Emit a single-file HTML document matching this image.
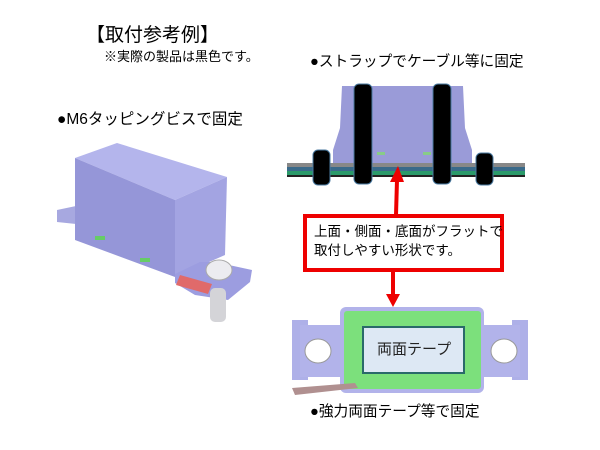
<!DOCTYPE html>
<html><head><meta charset="utf-8"><style>
body{margin:0;width:600px;height:450px;background:#fff;position:relative;overflow:hidden;font-family:"Liberation Sans","Noto Sans CJK JP",sans-serif;color:#000}
.t{position:absolute;white-space:nowrap;line-height:1}
</style></head><body>
<div class="t" style="left:86px;top:26px;font-size:19px">【取付参考例】</div>
<div class="t" style="left:104px;top:50px;font-size:13px">※実際の製品は黒色です。</div>
<div class="t" style="left:57px;top:112px;font-size:15.5px">●M6タッピングビスで固定</div>
<div class="t" style="left:310px;top:55px;font-size:14.7px">●ストラップでケーブル等に固定</div>
<div class="t" style="left:310px;top:405px;font-size:14.7px">●強力両面テープ等で固定</div>
<svg width="600" height="450" style="position:absolute;left:0;top:0">
<!-- left product -->
<polygon points="57,210 76,206 76,224 57,222" fill="#a7a8e0"/>
<polygon points="75,158 117,143 227,177 175,200" fill="#b4b5ec"/>
<polygon points="75,158 175,200 175,277 75,240" fill="#9596d8"/>
<polygon points="175,200 227,177 225,255 175,277" fill="#a3a4e2"/>
<polygon points="175,274 200,262 215,262 252,270 250,282 228,300 195,295 175,283" fill="#9c9de0"/>
<polygon points="180,275 212,284 208,294 176,285" fill="#e06a6a"/>
<rect x="210" y="288" width="16" height="34" rx="5" fill="#d4d4d8"/>
<ellipse cx="219" cy="270" rx="13" ry="10" fill="#ececf0" stroke="#aaa"/>
<rect x="95" y="236" width="10" height="4" fill="#6c6"/><rect x="140" y="258" width="10" height="4" fill="#6c6"/>
<!-- strap figure -->
<polygon points="342,86 463,86 465,128 472,150 472,165 333,165 333,150 340,128" fill="#9a9bd8"/>
<rect x="287" y="163" width="238" height="4" fill="#888"/>
<rect x="287" y="167" width="238" height="4" fill="#3a6a8a"/>
<rect x="287" y="171" width="238" height="4" fill="#2a9a6a"/>
<rect x="287" y="175" width="238" height="2" fill="#222"/>
<rect x="354" y="84" width="18" height="100" rx="5" fill="#000" stroke="#4a7aa0"/>
<rect x="433" y="84" width="18" height="100" rx="5" fill="#000" stroke="#4a7aa0"/>
<rect x="313" y="150" width="17" height="35" rx="5" fill="#000" stroke="#4a7aa0"/>
<rect x="476" y="153" width="17" height="32" rx="5" fill="#000" stroke="#4a7aa0"/>
<rect x="377" y="152" width="8" height="3" fill="#8c8"/><rect x="423" y="152" width="8" height="3" fill="#8c8"/>
<!-- arrows -->
<line x1="396" y1="215" x2="397" y2="180" stroke="#e00" stroke-width="4"/>
<polygon points="390,182 398,166 404,182" fill="#e00"/>
<line x1="393" y1="270" x2="393" y2="296" stroke="#e00" stroke-width="4"/>
<polygon points="386,294 393,307 400,294" fill="#e00"/>
<!-- bottom plate -->
<rect x="292" y="320" width="16" height="60" fill="#aeb0e8"/>
<rect x="512" y="320" width="16" height="60" fill="#aeb0e8"/>
<rect x="300" y="325" width="220" height="52" fill="#b2b3ea"/>
<rect x="340" y="307" width="144" height="86" rx="6" fill="#b2b3ea"/>
<ellipse cx="318" cy="351" rx="13" ry="12" fill="#fff" stroke="#999"/>
<ellipse cx="504" cy="351" rx="13" ry="12" fill="#fff" stroke="#999"/>
<rect x="344" y="311" width="137" height="78" rx="3" fill="#7ce07c"/>
<rect x="363" y="327" width="101" height="46" fill="#dde8f4" stroke="#2a6a6a" stroke-width="2"/>
<polygon points="292,388 355,383 358,388 295,395" fill="#b09090"/>
</svg>
<div class="t" style="left:377px;top:342px;font-size:15px;color:#222">両面テープ</div>
<div style="position:absolute;left:303px;top:214px;width:193px;height:50px;border:4px solid #e00;background:#fff"></div>
<div class="t" style="left:314px;top:222px;font-size:13.5px;line-height:19px">上面・側面・底面がフラットで<br>取付しやすい形状です。</div>
</body></html>
